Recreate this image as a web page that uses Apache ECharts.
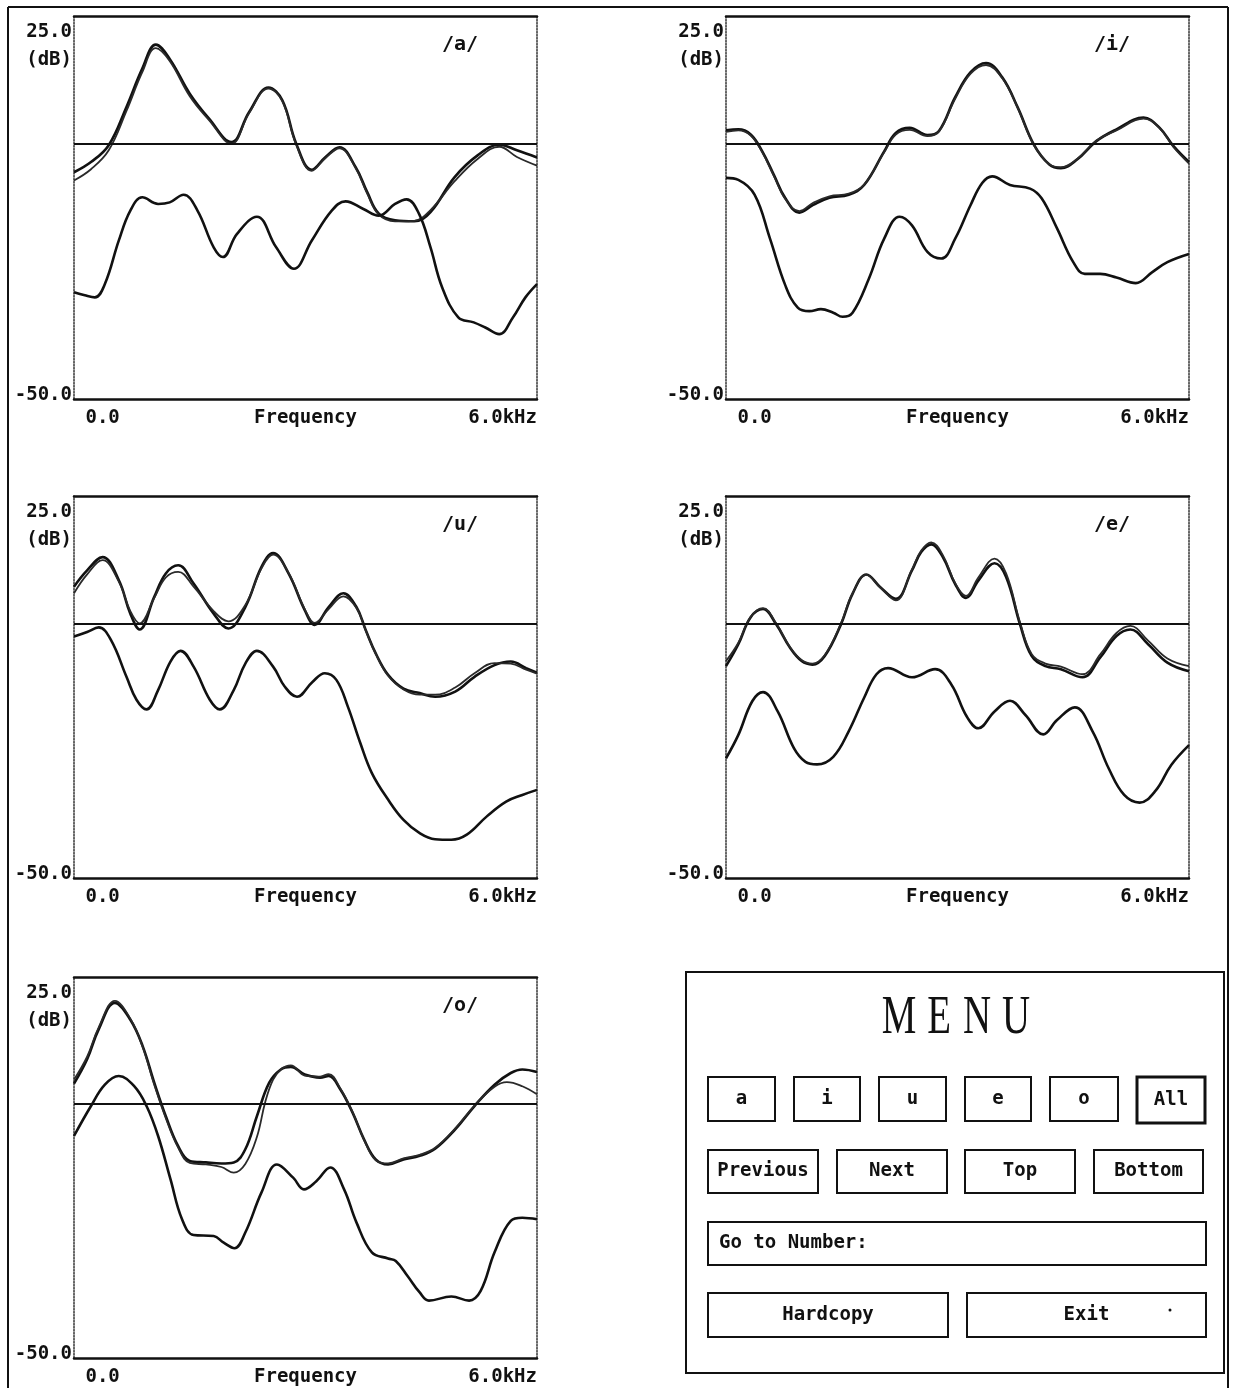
<!DOCTYPE html>
<html><head><meta charset="utf-8">
<script src="https://cdn.jsdelivr.net/npm/echarts@6/dist/echarts.min.js"></script>
<style>html,body{margin:0;padding:0;background:#fff}#c{width:1237px;height:1388px}</style>
</head><body><div id="c"></div>
<script>
// ---------- DATA ----------
const vowelLabels = ['/a/', '/i/', '/u/', '/e/', '/o/'];
const yTickLabels = ['-50.0', '25.0', '(dB)'];
const xTickLabels = ['0.0', '6.0kHz'];
const xAxisName = 'Frequency';
const menuTitleLetters = ['M', 'E', 'N', 'U'];
const menuVowelButtons = ['a', 'i', 'u', 'e', 'o', 'All'];
const menuNavButtons = ['Previous', 'Next', 'Top', 'Bottom'];
const menuGoTo = 'Go to Number:';
const menuBottomButtons = ['Hardcopy', 'Exit'];

// /a/  [frequency kHz, level dB]
const a_upper1 = [[0,-5.6],[0.22,-3.6],[0.45,-0.3],[0.68,7.2],[0.885,14.7],[1.06,19.4],[1.24,16.6],[1.5,9.8],[1.75,4.9],[2.04,0.3],[2.27,6.2],[2.52,11.0],[2.7,8.5],[2.88,0.0],[3.08,-5.1],[3.26,-2.6],[3.44,-0.7],[3.65,-4.6],[3.8,-9.5],[3.95,-13.7],[4.16,-15.0],[4.41,-15.2],[4.62,-13.4],[4.93,-6.6],[5.23,-2.3],[5.51,-0.2],[5.74,-1.3],[6.0,-2.7]];
const a_upper2 = [[0,-7.2],[0.22,-5.0],[0.45,-1.3],[0.68,6.4],[0.885,14.0],[1.06,18.7],[1.24,16.2],[1.5,9.3],[1.75,4.6],[2.04,0.0],[2.27,6.0],[2.52,10.8],[2.7,8.3],[2.88,-0.2],[3.08,-5.3],[3.26,-2.8],[3.44,-0.9],[3.65,-4.8],[3.8,-9.8],[3.95,-13.9],[4.16,-15.2],[4.41,-15.1],[4.62,-13.0],[4.93,-7.4],[5.23,-3.0],[5.51,-0.6],[5.74,-2.6],[6.0,-4.3]];
const a_lower = [[0,-29.1],[0.14,-29.7],[0.27,-30.1],[0.4,-27.5],[0.58,-19.0],[0.73,-13.1],[0.885,-10.5],[1.09,-11.8],[1.24,-11.5],[1.42,-10.0],[1.6,-13.1],[1.81,-20.3],[1.93,-22.2],[2.11,-17.7],[2.37,-14.3],[2.62,-20.3],[2.85,-24.5],[3.08,-19.0],[3.34,-13.1],[3.52,-11.3],[3.75,-12.8],[3.95,-14.1],[4.16,-11.8],[4.31,-10.9],[4.47,-13.7],[4.62,-20.3],[4.77,-28.1],[4.98,-34.0],[5.18,-35.0],[5.33,-36.0],[5.51,-37.3],[5.69,-34.0],[5.85,-30.1],[6.0,-27.5]];

// /i/
const i_upper1 = [[0,2.6],[0.16,2.8],[0.32,1.8],[0.47,-1.5],[0.62,-6.1],[0.77,-10.7],[0.95,-13.5],[1.13,-12.0],[1.34,-10.6],[1.59,-10.0],[1.79,-8.1],[2.05,-1.5],[2.2,2.1],[2.38,3.1],[2.61,1.7],[2.76,2.5],[2.97,9.1],[3.17,14.0],[3.37,15.8],[3.58,13.0],[3.78,7.1],[3.99,-0.2],[4.19,-4.1],[4.34,-4.8],[4.55,-3.1],[4.8,0.5],[5.06,2.8],[5.41,5.1],[5.62,3.1],[5.8,-0.5],[6.0,-3.6]];
const i_upper2 = [[0,2.3],[0.16,2.6],[0.32,1.6],[0.47,-1.7],[0.62,-6.3],[0.77,-10.9],[0.95,-13.2],[1.13,-11.6],[1.34,-10.3],[1.59,-9.8],[1.79,-8.0],[2.05,-1.7],[2.2,1.8],[2.38,2.7],[2.61,1.5],[2.76,2.4],[2.97,8.8],[3.17,13.7],[3.37,15.4],[3.58,12.8],[3.78,7.0],[3.99,-0.3],[4.19,-4.0],[4.34,-4.6],[4.55,-3.0],[4.8,0.6],[5.06,2.6],[5.41,4.9],[5.62,3.0],[5.8,-0.7],[6.0,-3.9]];
const i_lower = [[0,-6.7],[0.16,-7.1],[0.37,-10.0],[0.57,-18.6],[0.77,-27.8],[0.93,-32.1],[1.08,-32.8],[1.23,-32.4],[1.39,-33.1],[1.51,-33.9],[1.64,-33.1],[1.85,-26.5],[2.05,-18.6],[2.25,-14.3],[2.41,-16.0],[2.61,-21.2],[2.79,-22.5],[2.97,-18.6],[3.17,-12.0],[3.32,-7.7],[3.45,-6.4],[3.68,-8.1],[3.94,-8.8],[4.09,-10.7],[4.29,-16.6],[4.5,-23.2],[4.65,-25.5],[4.85,-25.5],[5.06,-26.2],[5.31,-27.3],[5.52,-25.2],[5.72,-23.2],[6.0,-21.6]];

// /u/
const u_upper1 = [[0,7.2],[0.17,10.4],[0.37,13.0],[0.58,8.5],[0.73,1.9],[0.85,-1.2],[1.04,5.2],[1.19,9.8],[1.35,11.4],[1.55,7.8],[1.81,1.9],[2.0,-1.0],[2.22,3.2],[2.43,11.1],[2.58,13.8],[2.78,9.8],[2.99,2.6],[3.12,-0.3],[3.3,3.2],[3.49,5.9],[3.66,3.2],[3.78,-1.3],[3.91,-5.9],[4.07,-10.1],[4.27,-12.8],[4.48,-13.7],[4.68,-14.4],[4.94,-13.4],[5.19,-10.5],[5.45,-8.2],[5.66,-7.5],[5.86,-8.8],[6.0,-9.7]];
const u_upper2 = [[0,5.9],[0.17,9.6],[0.37,12.4],[0.58,8.2],[0.73,2.4],[0.85,0.0],[1.04,5.0],[1.19,9.0],[1.35,10.1],[1.55,7.2],[1.81,2.4],[2.0,0.4],[2.22,3.6],[2.43,10.8],[2.58,13.5],[2.78,9.9],[2.99,2.8],[3.12,0.1],[3.3,2.8],[3.49,5.3],[3.66,3.0],[3.78,-1.4],[3.91,-6.0],[4.07,-10.3],[4.27,-13.0],[4.48,-14.0],[4.68,-14.0],[4.94,-12.6],[5.19,-9.8],[5.45,-7.8],[5.66,-7.9],[5.86,-9.1],[6.0,-9.9]];
const u_lower = [[0,-2.6],[0.17,-1.7],[0.32,-0.8],[0.48,-3.3],[0.68,-10.5],[0.81,-15.0],[0.94,-16.9],[1.09,-13.1],[1.25,-7.5],[1.38,-5.4],[1.55,-8.5],[1.76,-15.0],[1.89,-16.9],[2.07,-13.1],[2.22,-7.9],[2.37,-5.4],[2.58,-8.5],[2.73,-12.4],[2.89,-14.4],[3.09,-11.5],[3.25,-9.8],[3.4,-11.1],[3.55,-16.4],[3.71,-23.5],[3.86,-29.4],[4.07,-34.6],[4.27,-38.6],[4.48,-41.2],[4.68,-42.4],[4.89,-42.5],[5.09,-41.5],[5.35,-37.9],[5.6,-35.0],[5.81,-33.7],[6.0,-32.7]];

// /e/
const e_upper1 = [[0,-8.4],[0.16,-4.1],[0.32,1.2],[0.48,2.8],[0.65,-0.2],[0.83,-4.8],[0.98,-7.4],[1.12,-8.1],[1.28,-6.4],[1.49,-0.2],[1.64,5.8],[1.82,9.6],[2.0,7.1],[2.2,4.8],[2.41,10.4],[2.53,14.0],[2.66,15.5],[2.81,13.0],[2.97,7.7],[3.11,5.0],[3.27,8.4],[3.48,11.8],[3.63,9.1],[3.81,-0.2],[3.96,-6.4],[4.14,-8.4],[4.34,-9.0],[4.62,-10.6],[4.85,-6.7],[5.06,-2.5],[5.24,-1.2],[5.47,-4.1],[5.72,-7.7],[6.0,-9.4]];
const e_upper2 = [[0,-7.4],[0.16,-3.8],[0.32,1.3],[0.48,3.0],[0.65,0.0],[0.83,-4.7],[0.98,-7.2],[1.12,-7.9],[1.28,-6.2],[1.49,0.0],[1.64,5.9],[1.82,9.5],[2.0,7.0],[2.2,4.5],[2.41,10.6],[2.53,14.3],[2.66,15.9],[2.81,13.4],[2.97,7.9],[3.11,5.4],[3.27,9.0],[3.48,12.7],[3.63,9.8],[3.81,0.2],[3.96,-6.0],[4.14,-7.9],[4.34,-8.5],[4.62,-10.0],[4.85,-6.1],[5.06,-1.9],[5.24,-0.5],[5.47,-3.4],[5.72,-6.9],[6.0,-8.4]];
const e_lower = [[0,-26.5],[0.16,-21.9],[0.34,-15.3],[0.48,-13.5],[0.67,-17.3],[0.88,-24.5],[1.03,-27.2],[1.18,-27.7],[1.39,-26.2],[1.59,-21.2],[1.79,-14.6],[1.95,-10.0],[2.1,-8.8],[2.41,-10.6],[2.71,-9.0],[2.92,-12.0],[3.12,-18.3],[3.27,-20.6],[3.48,-17.3],[3.68,-15.2],[3.88,-18.0],[4.11,-21.8],[4.29,-19.0],[4.52,-16.5],[4.75,-21.2],[4.96,-28.5],[5.16,-33.7],[5.36,-35.2],[5.57,-32.8],[5.77,-27.8],[6.0,-23.9]];

// /o/
const o_upper1 = [[0,4.0],[0.17,8.8],[0.32,14.7],[0.53,19.9],[0.73,16.6],[0.89,11.4],[1.04,4.2],[1.19,-2.4],[1.35,-8.3],[1.5,-11.2],[1.71,-11.5],[1.91,-11.7],[2.07,-11.5],[2.22,-8.9],[2.37,-2.4],[2.53,4.2],[2.68,6.8],[2.81,7.3],[2.99,5.8],[3.19,5.2],[3.3,5.5],[3.45,2.9],[3.61,-1.7],[3.76,-7.0],[3.91,-10.9],[4.07,-11.9],[4.27,-10.9],[4.48,-10.2],[4.68,-8.8],[4.94,-5.0],[5.19,-0.4],[5.45,3.8],[5.66,6.1],[5.81,6.8],[6.0,6.3]];
const o_upper2 = [[0,4.8],[0.17,9.3],[0.32,15.1],[0.53,20.3],[0.73,16.8],[0.89,11.2],[1.04,3.8],[1.19,-2.8],[1.35,-8.6],[1.5,-11.6],[1.71,-11.9],[1.91,-12.4],[2.07,-13.5],[2.22,-11.8],[2.37,-6.5],[2.48,0.5],[2.58,4.8],[2.68,6.8],[2.81,7.6],[2.99,5.6],[3.19,5.4],[3.3,5.9],[3.45,3.1],[3.61,-1.6],[3.76,-7.1],[3.91,-11.1],[4.07,-11.7],[4.27,-10.7],[4.48,-10.0],[4.68,-8.6],[4.94,-4.8],[5.19,-0.3],[5.45,3.4],[5.61,4.3],[5.81,3.5],[6.0,1.9]];
const o_lower = [[0,-6.3],[0.22,-0.4],[0.4,3.8],[0.58,5.5],[0.78,3.5],[0.94,-0.4],[1.09,-6.3],[1.25,-14.8],[1.4,-22.7],[1.55,-25.8],[1.81,-26.0],[1.94,-27.3],[2.08,-28.4],[2.22,-25.3],[2.43,-17.4],[2.63,-11.9],[2.84,-14.5],[2.98,-16.8],[3.14,-15.2],[3.32,-12.5],[3.5,-16.8],[3.66,-23.3],[3.86,-29.2],[4.07,-30.4],[4.17,-30.9],[4.32,-33.8],[4.48,-37.1],[4.6,-38.7],[4.89,-37.9],[5.12,-38.7],[5.27,-36.8],[5.45,-29.2],[5.66,-23.0],[5.81,-22.4],[6.0,-22.7]];

const panelCurves = [
  [a_upper1, a_upper2, a_lower],
  [i_upper1, i_upper2, i_lower],
  [u_upper1, u_upper2, u_lower],
  [e_upper1, e_upper2, e_lower],
  [o_upper1, o_upper2, o_lower]
];

// ---------- LAYOUT ----------
const grids = [
  {left: 74, top: 16, width: 463, height: 383},
  {left: 726, top: 16, width: 463, height: 383},
  {left: 74, top: 496, width: 463, height: 382},
  {left: 726, top: 496, width: 463, height: 382},
  {left: 74, top: 977, width: 463, height: 383}
];
const FONT = 'DejaVu Sans Mono';
const INK = '#111';

const option = {
  animation: false,
  backgroundColor: '#fff',
  grid: [], xAxis: [], yAxis: [], series: [], graphic: []
};

grids.forEach((g, i) => {
  option.grid.push(Object.assign({containLabel: false}, g));
  const labelFont = {fontFamily: FONT, fontWeight: 'bold', fontSize: 19, color: INK};
  option.xAxis.push({
    type: 'value', gridIndex: i, min: 0, max: 6, interval: 6, position: 'bottom',
    axisLine: {show: true, onZero: false, lineStyle: {color: INK, width: 2.5}},
    axisTick: {show: false}, splitLine: {show: false},
    axisLabel: Object.assign({
      margin: 10,
      alignMinLabel: 'left', alignMaxLabel: 'right',
      formatter: v => v === 0 ? ' ' + xTickLabels[0] : xTickLabels[1]
    }, labelFont),
    name: xAxisName, nameLocation: 'middle', nameGap: 10, nameMoveOverlap: false,
    nameTextStyle: Object.assign({verticalAlign: 'top'}, labelFont)
  });
  option.xAxis.push({
    type: 'value', gridIndex: i, min: 0, max: 6, interval: 6, position: 'top',
    axisLine: {show: true, onZero: false, lineStyle: {color: INK, width: 2.5}},
    axisTick: {show: false}, splitLine: {show: false}, axisLabel: {show: false}
  });
  option.yAxis.push({
    type: 'value', gridIndex: i, min: -50, max: 25, interval: 75, position: 'left',
    axisLine: {show: true, onZero: false, lineStyle: {color: '#333', width: 1.5, type: 'dotted'}},
    axisTick: {show: false}, splitLine: {show: false},
    axisLabel: Object.assign({
      margin: 2,
      verticalAlignMaxLabel: 'top', verticalAlignMinLabel: 'bottom',
      formatter: v => v === 25 ? '{h1|' + yTickLabels[1] + '}\n{h2|' + yTickLabels[2] + '}' : '{lo|' + yTickLabels[0] + '}',
      rich: {
        h1: Object.assign({lineHeight: 32, align: 'right'}, labelFont),
        h2: Object.assign({lineHeight: 24, align: 'right'}, labelFont),
        lo: Object.assign({lineHeight: 8, align: 'right'}, labelFont)
      }
    }, labelFont)
  });
  option.yAxis.push({
    type: 'value', gridIndex: i, min: -50, max: 25, interval: 75, position: 'right',
    axisLine: {show: true, onZero: false, lineStyle: {color: '#333', width: 1.5, type: 'dotted'}},
    axisTick: {show: false}, splitLine: {show: false}, axisLabel: {show: false}
  });
  panelCurves[i].forEach((curve, k) => {
    const s = {
      type: 'line', xAxisIndex: 2 * i, yAxisIndex: 2 * i, data: curve,
      smooth: 0.4, showSymbol: false, symbol: 'none',
      lineStyle: {color: k === 1 ? '#2a2a2a' : INK, width: k === 1 ? 1.8 : 2.6},
      silent: true, z: 3
    };
    if (k === 0) {
      s.markLine = {
        silent: true, symbol: ['none', 'none'], label: {show: false},
        lineStyle: {color: INK, width: 2.2, type: 'solid'},
        data: [{yAxis: 0}]
      };
    }
    option.series.push(s);
  });
  option.graphic.push({
    type: 'text', x: g.left + 386, y: g.top + 29,
    style: {text: vowelLabels[i], font: 'bold 20px "' + FONT + '"', fill: INK, align: 'center', verticalAlign: 'middle'}
  });
});

// page frame
const frame = [[8, 7, 1228, 7], [8, 7, 8, 1388], [1228, 7, 1228, 1388]];
frame.forEach(f => option.graphic.push({
  type: 'line', shape: {x1: f[0], y1: f[1], x2: f[2], y2: f[3]},
  style: {stroke: INK, lineWidth: 2}
}));

// menu box
option.graphic.push({type: 'rect', shape: {x: 686, y: 972, width: 538, height: 401},
  style: {fill: 'none', stroke: INK, lineWidth: 2}});
const titleX = [899, 939, 977, 1016];
menuTitleLetters.forEach((ch, i) => option.graphic.push({
  type: 'text', x: titleX[i], y: 1019, scaleX: 0.72,
  style: {text: ch, font: '54px "Liberation Serif"', fill: INK, align: 'center', verticalAlign: 'middle'}
}));

const btnFont = 'bold 19px "' + FONT + '"';
function button(x1, y1, x2, y2, label, lw, leftAlign) {
  option.graphic.push({type: 'rect', shape: {x: x1, y: y1, width: x2 - x1, height: y2 - y1},
    style: {fill: '#fff', stroke: INK, lineWidth: lw || 2}});
  option.graphic.push({type: 'text', x: leftAlign ? x1 + 11 : (x1 + x2) / 2, y: (y1 + y2) / 2,
    style: {text: label, font: btnFont, fill: INK, align: leftAlign ? 'left' : 'center', verticalAlign: 'middle'}, z: 10});
}
const row1X = [[708, 775], [794, 860], [879, 946], [965, 1031], [1050, 1118], [1137, 1205]];
menuVowelButtons.forEach((b, i) => button(row1X[i][0], 1077, row1X[i][1], b === 'All' ? 1123 : 1121, b, b === 'All' ? 3 : 2));
const row2X = [[708, 818], [837, 947], [965, 1075], [1094, 1203]];
menuNavButtons.forEach((b, i) => button(row2X[i][0], 1150, row2X[i][1], 1193, b, 2));
button(708, 1222, 1206, 1265, menuGoTo, 2, true);
const row4X = [[708, 948], [967, 1206]];
menuBottomButtons.forEach((b, i) => button(row4X[i][0], 1293, row4X[i][1], 1337, b, 2));
option.graphic.push({type: 'circle', shape: {cx: 1170, cy: 1310, r: 1.5}, style: {fill: INK}, z: 11});

const chart = echarts.init(document.getElementById('c'), null, {renderer: 'canvas'});
chart.setOption(option);
</script>
</body></html>
